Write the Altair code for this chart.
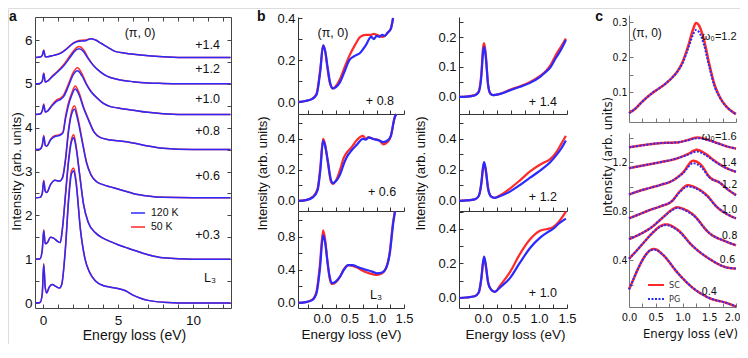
import altair as alt
import pandas as pd

BLUE = "#2a2aff"
RED = "#ff2a2a"
FONT = "Liberation Sans, Arial, Helvetica, sans-serif"
NARROW = "Liberation Sans Narrow, DejaVu Sans Condensed, Liberation Sans, sans-serif"
W, H = 732, 336
M = 8
TICK = 4

# ---------------- panel a : offset spectra (120 K blue, 50 K red) ----------------
a_E_L3 = [-0.5, -0.2, -0.05, 0.05, 0.15, 0.25, 0.4, 0.6, 0.85, 1.1, 1.25, 1.5, 1.7, 1.9, 2.05, 2.2, 2.5, 2.8, 3.1, 3.5, 4.0, 4.5, 5.0, 5.5, 6.0, 6.5, 7.0, 8.0, 10.0, 12.5]
a_L3_120 = [0.0, 0.01, 0.2, 0.87, 0.35, 0.23, 0.35, 0.42, 0.38, 0.34, 0.42, 1.25, 2.3, 2.95, 3.02, 2.75, 1.65, 1.0, 0.7, 0.5, 0.4, 0.36, 0.33, 0.28, 0.18, 0.11, 0.06, 0.02, 0.0, 0.0]
a_L3_50 = [0.0, 0.01, 0.21, 0.9, 0.35, 0.23, 0.35, 0.42, 0.38, 0.34, 0.43, 1.3, 2.38, 3.02, 3.08, 2.8, 1.68, 1.02, 0.71, 0.5, 0.4, 0.36, 0.33, 0.28, 0.18, 0.11, 0.06, 0.02, 0.0, 0.0]

a_E_03 = [-0.5, -0.2, -0.05, 0.05, 0.15, 0.3, 0.5, 0.7, 1.0, 1.15, 1.3, 1.5, 1.7, 1.9, 2.05, 2.2, 2.45, 2.7, 3.0, 3.5, 4.0, 4.5, 5.0, 5.5, 6.0, 7.0, 8.0, 10.0, 12.5]
a_03_120 = [1.0, 1.01, 1.2, 1.65, 1.35, 1.38, 1.5, 1.48, 1.4, 1.38, 1.7, 2.45, 3.2, 3.68, 3.77, 3.55, 2.9, 2.25, 1.85, 1.6, 1.48, 1.4, 1.33, 1.27, 1.21, 1.1, 1.03, 1.0, 1.0]
a_03_50 = [1.0, 1.01, 1.21, 1.67, 1.35, 1.38, 1.5, 1.48, 1.4, 1.38, 1.72, 2.5, 3.27, 3.74, 3.84, 3.6, 2.93, 2.27, 1.86, 1.6, 1.48, 1.4, 1.33, 1.27, 1.21, 1.1, 1.03, 1.0, 1.0]

a_E_06 = [-0.5, -0.2, -0.05, 0.05, 0.15, 0.25, 0.5, 0.8, 1.1, 1.3, 1.5, 1.7, 1.9, 2.1, 2.3, 2.6, 2.9, 3.2, 3.6, 4.0, 4.5, 5.0, 5.5, 6.0, 7.0, 8.0, 10.0, 12.5]
a_06_120 = [2.4, 2.41, 2.5, 2.78, 2.55, 2.52, 2.7, 2.8, 2.78, 2.85, 3.25, 3.9, 4.3, 4.42, 4.2, 3.7, 3.2, 2.92, 2.76, 2.7, 2.65, 2.6, 2.55, 2.5, 2.44, 2.41, 2.4, 2.4]
a_06_50 = [2.4, 2.41, 2.5, 2.8, 2.55, 2.52, 2.7, 2.8, 2.78, 2.87, 3.3, 3.96, 4.36, 4.5, 4.27, 3.74, 3.22, 2.93, 2.76, 2.7, 2.65, 2.6, 2.55, 2.5, 2.44, 2.41, 2.4, 2.4]

a_E_08 = [-0.5, -0.2, -0.05, 0.05, 0.15, 0.25, 0.5, 0.8, 1.1, 1.33, 1.5, 1.67, 1.93, 2.15, 2.4, 2.7, 3.0, 3.4, 3.8, 4.5, 5.0, 6.0, 7.0, 8.0, 10.0, 12.5]
a_08_120 = [3.5, 3.51, 3.6, 3.8, 3.6, 3.58, 3.72, 3.8, 3.82, 3.88, 4.2, 4.47, 4.75, 4.88, 4.75, 4.45, 4.2, 3.9, 3.78, 3.72, 3.7, 3.65, 3.58, 3.53, 3.5, 3.5]
a_08_50 = [3.5, 3.51, 3.6, 3.82, 3.6, 3.58, 3.73, 3.82, 3.84, 3.9, 4.25, 4.53, 4.8, 4.95, 4.8, 4.48, 4.22, 3.91, 3.78, 3.72, 3.7, 3.65, 3.58, 3.53, 3.5, 3.5]

a_E_10 = [-0.5, -0.2, -0.05, 0.05, 0.15, 0.3, 0.6, 0.9, 1.2, 1.4, 1.7, 2.0, 2.3, 2.6, 2.9, 3.2, 3.6, 4.0, 4.5, 5.0, 6.0, 7.0, 8.0, 10.0, 12.5]
a_10_120 = [4.3, 4.31, 4.38, 4.52, 4.36, 4.38, 4.5, 4.6, 4.65, 4.72, 4.95, 5.2, 5.3, 5.18, 4.98, 4.82, 4.68, 4.56, 4.48, 4.45, 4.4, 4.35, 4.32, 4.3, 4.3]
a_10_50 = [4.3, 4.31, 4.38, 4.54, 4.36, 4.38, 4.52, 4.63, 4.68, 4.76, 5.0, 5.25, 5.37, 5.23, 5.0, 4.83, 4.68, 4.56, 4.48, 4.45, 4.4, 4.35, 4.32, 4.3, 4.3]

a_E_12 = [-0.5, -0.2, -0.05, 0.05, 0.15, 0.3, 0.6, 1.0, 1.4, 1.8, 2.1, 2.4, 2.7, 3.0, 3.4, 3.8, 4.3, 5.0, 6.0, 7.0, 8.0, 10.0, 12.5]
a_12_120 = [5.0, 5.01, 5.06, 5.23, 5.04, 5.06, 5.16, 5.28, 5.42, 5.6, 5.74, 5.8, 5.74, 5.58, 5.4, 5.28, 5.17, 5.1, 5.05, 5.02, 5.01, 5.0, 5.0]
a_12_50 = [5.0, 5.01, 5.06, 5.25, 5.04, 5.06, 5.17, 5.3, 5.45, 5.64, 5.78, 5.85, 5.78, 5.6, 5.41, 5.28, 5.17, 5.1, 5.05, 5.02, 5.01, 5.0, 5.0]

a_E_14 = [-0.5, -0.2, -0.05, 0.05, 0.15, 0.3, 0.7, 1.2, 1.6, 2.0, 2.4, 2.8, 3.2, 3.5, 3.9, 4.3, 4.8, 5.5, 6.5, 8.0, 10.0, 12.5]
a_14_120 = [5.6, 5.61, 5.65, 5.76, 5.62, 5.62, 5.65, 5.7, 5.8, 5.92, 5.97, 5.98, 6.03, 6.0, 5.92, 5.84, 5.74, 5.7, 5.66, 5.62, 5.6, 5.6]
a_14_50 = [5.6, 5.61, 5.65, 5.77, 5.62, 5.62, 5.65, 5.71, 5.81, 5.93, 5.99, 6.0, 6.03, 6.0, 5.92, 5.84, 5.74, 5.7, 5.66, 5.62, 5.6, 5.6]

a_curve_labels = ["+1.4", "+1.2", "+1.0", "+0.8", "+0.6", "+0.3"]
a_curve_label_E = [11.8, 11.8, 11.8, 11.8, 11.8, 11.8]
a_curve_label_I = [5.886, 5.34, 4.65, 3.92, 2.9, 1.55]

# ---------------- panel b : low-energy zoom ----------------
b1_E = [-0.43, -0.3, -0.18, -0.1, -0.03, 0.02, 0.06, 0.1, 0.15, 0.2, 0.25, 0.33, 0.42, 0.5, 0.6, 0.7, 0.8, 0.9, 0.95, 1.0, 1.05, 1.1, 1.15, 1.2, 1.26, 1.3]
b1_120 = [0.0, 0.005, 0.015, 0.035, 0.15, 0.27, 0.24, 0.17, 0.09, 0.065, 0.07, 0.095, 0.15, 0.2, 0.22, 0.235, 0.27, 0.31, 0.3, 0.315, 0.31, 0.32, 0.315, 0.33, 0.35, 0.4]
b1_50 = [0.0, 0.005, 0.015, 0.04, 0.16, 0.27, 0.24, 0.16, 0.085, 0.065, 0.075, 0.11, 0.17, 0.22, 0.27, 0.31, 0.32, 0.32, 0.325, 0.32, 0.315, 0.31, 0.315, 0.33, 0.35, 0.4]

b2_E = [-0.43, -0.3, -0.16, -0.08, -0.03, 0.02, 0.06, 0.11, 0.16, 0.2, 0.26, 0.33, 0.4, 0.45, 0.55, 0.63, 0.75, 0.8, 0.85, 0.94, 1.05, 1.12, 1.2, 1.26, 1.33, 1.36]
b2_120 = [0.0, 0.005, 0.025, 0.07, 0.2, 0.39, 0.35, 0.25, 0.14, 0.115, 0.13, 0.17, 0.24, 0.28, 0.33, 0.36, 0.4, 0.395, 0.41, 0.4, 0.39, 0.38, 0.39, 0.42, 0.54, 0.56]
b2_50 = [0.0, 0.005, 0.03, 0.08, 0.22, 0.40, 0.36, 0.24, 0.13, 0.11, 0.135, 0.2, 0.28, 0.31, 0.35, 0.39, 0.42, 0.40, 0.41, 0.4, 0.39, 0.365, 0.38, 0.42, 0.54, 0.56]

b3_E = [-0.43, -0.3, -0.18, -0.1, -0.04, 0.02, 0.06, 0.1, 0.14, 0.18, 0.25, 0.33, 0.4, 0.48, 0.56, 0.64, 0.72, 0.82, 0.92, 1.0, 1.1, 1.17, 1.24, 1.3, 1.335]
b3_120 = [0.0, 0.01, 0.035, 0.12, 0.4, 0.82, 0.72, 0.5, 0.32, 0.24, 0.26, 0.32, 0.4, 0.46, 0.46, 0.44, 0.42, 0.4, 0.38, 0.36, 0.37, 0.42, 0.6, 0.95, 1.11]
b3_50 = [0.0, 0.01, 0.04, 0.14, 0.45, 0.88, 0.76, 0.5, 0.3, 0.23, 0.25, 0.32, 0.41, 0.46, 0.45, 0.43, 0.4, 0.37, 0.35, 0.34, 0.36, 0.42, 0.62, 0.98, 1.11]

b4_E = [-0.43, -0.3, -0.15, -0.08, -0.03, 0.0, 0.02, 0.05, 0.09, 0.13, 0.18, 0.3, 0.48, 0.65, 0.84, 1.02, 1.1, 1.2, 1.3, 1.4, 1.48]
b4_120 = [0.0, 0.001, 0.005, 0.015, 0.07, 0.15, 0.167, 0.13, 0.04, 0.012, 0.006, 0.01, 0.022, 0.033, 0.047, 0.067, 0.08, 0.098, 0.13, 0.16, 0.19]
b4_50 = [0.0, 0.001, 0.006, 0.018, 0.08, 0.165, 0.18, 0.14, 0.04, 0.01, 0.006, 0.01, 0.024, 0.035, 0.05, 0.07, 0.082, 0.105, 0.14, 0.17, 0.195]

b5_E = [-0.43, -0.3, -0.15, -0.08, -0.03, 0.0, 0.02, 0.05, 0.09, 0.14, 0.21, 0.3, 0.48, 0.65, 0.84, 1.0, 1.07, 1.2, 1.32, 1.4, 1.48]
b5_120 = [0.0, 0.003, 0.01, 0.03, 0.12, 0.22, 0.25, 0.2, 0.08, 0.03, 0.02, 0.03, 0.06, 0.1, 0.15, 0.19, 0.21, 0.25, 0.3, 0.34, 0.39]
b5_50 = [0.0, 0.003, 0.01, 0.03, 0.11, 0.21, 0.24, 0.19, 0.08, 0.03, 0.02, 0.035, 0.08, 0.13, 0.19, 0.23, 0.245, 0.27, 0.32, 0.37, 0.42]

b6_E = [-0.43, -0.3, -0.15, -0.08, -0.03, 0.0, 0.02, 0.05, 0.09, 0.14, 0.21, 0.3, 0.48, 0.65, 0.84, 1.02, 1.15, 1.25, 1.35, 1.48]
b6_120 = [0.0, 0.003, 0.01, 0.03, 0.12, 0.21, 0.24, 0.19, 0.09, 0.05, 0.035, 0.06, 0.115, 0.2, 0.29, 0.35, 0.38, 0.4, 0.43, 0.46]
b6_50 = [0.0, 0.003, 0.01, 0.03, 0.11, 0.2, 0.23, 0.18, 0.09, 0.05, 0.035, 0.07, 0.15, 0.25, 0.34, 0.39, 0.4, 0.41, 0.44, 0.5]

b_labels = {"b1": "+ 0.8", "b2": "+ 0.6", "b3": "L\u2083", "b4": "+ 1.4", "b5": "+ 1.2", "b6": "+ 1.0"}
b_label_pos = {"b1": (1.06, 0.005), "b2": (1.1, 0.058), "b3": (0.99, 0.097),
               "b4": (1.07, -0.017), "b5": (1.07, 0.026), "b6": (1.07, 0.029)}

# ---------------- panel c : model (SC red, PG blue dotted) ----------------
c1_E = [0.0, 0.1, 0.2, 0.3, 0.4, 0.5, 0.6, 0.7, 0.8, 0.9, 1.0, 1.1, 1.2, 1.25, 1.3, 1.4, 1.5, 1.6, 1.7, 1.8, 1.9, 2.0]
c1_sc = [0.04, 0.05, 0.065, 0.08, 0.093, 0.104, 0.114, 0.126, 0.14, 0.158, 0.185, 0.228, 0.28, 0.297, 0.292, 0.25, 0.18, 0.12, 0.085, 0.062, 0.047, 0.037]
c1_pg = [0.04, 0.05, 0.065, 0.08, 0.093, 0.104, 0.114, 0.126, 0.14, 0.157, 0.182, 0.222, 0.265, 0.277, 0.273, 0.236, 0.172, 0.116, 0.083, 0.061, 0.047, 0.037]

c_w16_E = [0.0, 0.3, 0.6, 0.9, 1.1, 1.28, 1.45, 1.65, 1.85, 2.0]
c_w16_sc = [1.32, 1.34, 1.355, 1.36, 1.38, 1.40, 1.385, 1.355, 1.325, 1.31]
c_w16_pg = [1.32, 1.34, 1.355, 1.36, 1.378, 1.395, 1.382, 1.354, 1.325, 1.31]
c_w14_E = [0.0, 0.3, 0.6, 0.9, 1.1, 1.27, 1.42, 1.6, 1.8, 2.0]
c_w14_sc = [1.15, 1.175, 1.2, 1.23, 1.265, 1.30, 1.27, 1.21, 1.155, 1.12]
c_w14_pg = [1.15, 1.175, 1.2, 1.23, 1.26, 1.285, 1.26, 1.205, 1.155, 1.12]
c_w12_E = [0.0, 0.2, 0.4, 0.6, 0.8, 1.0, 1.2, 1.35, 1.5, 1.7, 1.85, 2.0]
c_w12_sc = [0.935, 0.965, 0.99, 1.015, 1.045, 1.11, 1.21, 1.175, 1.08, 1.03, 0.975, 0.93]
c_w12_pg = [0.935, 0.965, 0.99, 1.015, 1.045, 1.105, 1.19, 1.16, 1.075, 1.03, 0.975, 0.93]
c_w10_E = [0.0, 0.2, 0.4, 0.6, 0.8, 0.95, 1.1, 1.25, 1.45, 1.65, 1.85, 2.0]
c_w10_sc = [0.74, 0.775, 0.81, 0.84, 0.88, 0.96, 1.01, 0.99, 0.93, 0.83, 0.77, 0.74]
c_w10_pg = [0.74, 0.775, 0.81, 0.84, 0.88, 0.955, 1.0, 0.985, 0.925, 0.83, 0.77, 0.74]
c_w08_E = [0.0, 0.2, 0.4, 0.64, 0.8, 0.9, 1.0, 1.2, 1.5, 1.82, 2.0]
c_w08_sc = [0.57, 0.61, 0.66, 0.75, 0.81, 0.83, 0.82, 0.77, 0.62, 0.55, 0.52]
c_w08_pg = [0.57, 0.61, 0.66, 0.75, 0.805, 0.825, 0.815, 0.765, 0.62, 0.55, 0.52]
c_w06_E = [0.0, 0.15, 0.27, 0.46, 0.6, 0.7, 0.9, 1.2, 1.5, 1.82, 2.0]
c_w06_sc = [0.41, 0.48, 0.54, 0.63, 0.68, 0.69, 0.65, 0.51, 0.41, 0.34, 0.33]
c_w06_pg = [0.41, 0.48, 0.54, 0.63, 0.675, 0.685, 0.645, 0.51, 0.41, 0.34, 0.33]
c_w04_E = [0.0, 0.08, 0.16, 0.31, 0.4, 0.47, 0.64, 0.9, 1.2, 1.5, 1.82, 2.0]
c_w04_sc = [0.16, 0.24, 0.32, 0.44, 0.48, 0.49, 0.44, 0.3, 0.17, 0.09, 0.05, 0.02]
c_w04_pg = [0.16, 0.24, 0.32, 0.44, 0.48, 0.485, 0.44, 0.3, 0.17, 0.09, 0.05, 0.02]

c_labels = ["1.4", "1.2", "1.0", "0.8", "0.6", "0.4"]
c_label_E = [1.87, 1.88, 1.88, 1.88, 1.84, 1.5]
c_label_I = [1.19, 1.01, 0.81, 0.6, 0.4, 0.14]

# ---------------- layout geometry (page px): left, right, bottom, top, x-domain, y-domain
GEOM = {
    "a": (35, 231, 308, 17, [-0.533, 12.533], [-0.114, 6.525]),
    "b1": (298, 404, 114, 17, [-0.439, 1.5], [-0.057, 0.405]),
    "b2": (298, 404, 211, 114, [-0.439, 1.5], [-0.065, 0.561]),
    "b3": (298, 404, 308, 211, [-0.439, 1.5], [-0.061, 1.115]),
    "b4": (459, 567, 114, 17, [-0.43, 1.5], [-0.057, 0.267]),
    "b5": (459, 567, 211, 114, [-0.43, 1.5], [-0.065, 0.561]),
    "b6": (459, 567, 308, 211, [-0.43, 1.5], [-0.058, 0.504]),
    "c1": (629, 736, 122, 15, [0.0, 2.0], [0.0143, 0.32]),
    "c2": (629, 736, 307, 133, [0.0, 2.0], [0.0163, 1.437]),
}


def sx(g):
    x0, x1, yb, yt, xd, yd = GEOM[g]
    return alt.Scale(domain=xd, range=[x0 - M, x1 - M], nice=False, zero=False)


def sy(g):
    x0, x1, yb, yt, xd, yd = GEOM[g]
    return alt.Scale(domain=yd, range=[yb - M, yt - M], nice=False, zero=False)


def base_axis(**kw):
    d = dict(grid=False, labelFlush=False, labelOverlap=False, title=None)
    d.update(kw)
    return alt.Axis(**d)


def y_label_axis(g, values, fmt, color, fs, font, pad=3, title=None, tx=0, ty=0, tfs=13):
    x0 = GEOM[g][0]
    kw = dict(orient="left", offset=-(x0 - M), values=values, format=fmt, ticks=False,
              domain=True, domainColor=color, domainWidth=1, labelFontSize=fs,
              labelFont=font, labelColor="#111", labelPadding=pad)
    if title:
        kw.update(title=title, titleX=tx, titleY=ty - M, titleAngle=270, titleAlign="center",
                  titleBaseline="middle", titleFontSize=tfs, titleFont=font,
                  titleFontWeight="normal", titleColor="#111")
    return base_axis(**kw)


def x_label_axis(g, values, fmt, color, fs, font, pad=10, show=True, title=None, tx=0, ty=0,
                 tfs=13, domain=True, flush_end=False):
    yb = GEOM[g][2]
    kw = dict(orient="bottom", offset=(yb - M) - H, values=values, ticks=False, domain=domain,
              domainColor=color, domainWidth=1, labels=show)
    if show:
        kw.update(format=fmt, labelFontSize=fs, labelFont=font, labelColor="#111",
                  labelPadding=pad, labelBaseline="middle")
        if flush_end:
            kw.update(labelFlush=True, labelFlushOffset=4)
    if title:
        kw.update(title=title, titleX=tx - M, titleY=ty - yb, titleAlign="center",
                  titleBaseline="middle", titleFontSize=tfs, titleFont=font,
                  titleFontWeight="normal", titleColor="#111")
    return base_axis(**kw)


def y_tick_axis(g, values, color, side="left"):
    x0, x1 = GEOM[g][0], GEOM[g][1]
    off = -(x0 - M + TICK) if side == "left" else (x1 - M - TICK) - W
    return base_axis(orient=side, offset=off, values=values, labels=False, domain=False,
                     ticks=True, tickSize=TICK, tickColor=color, tickWidth=1)


def x_tick_axis(g, values, color, side="bottom"):
    yb, yt = GEOM[g][2], GEOM[g][3]
    off = (yb - M - TICK) - H if side == "bottom" else -(yt - M + TICK)
    return base_axis(orient=side, offset=off, values=values, labels=False, domain=False,
                     ticks=True, tickSize=TICK, tickColor=color, tickWidth=1)


def x_frame_top(g, color):
    yt = GEOM[g][3]
    return base_axis(orient="top", offset=-(yt - M), labels=False, ticks=False, domain=True,
                     domainColor=color, domainWidth=1)


def y_frame_right(g, color):
    x1 = GEOM[g][1]
    return base_axis(orient="right", offset=(x1 - M) - W, labels=False, ticks=False, domain=True,
                     domainColor=color, domainWidth=1)


def series(E, I, **const):
    df = pd.DataFrame({"E": E, "I": I})
    for k, v in const.items():
        df[k] = v
    return df


def lines(df, g, xaxis, yaxis, color=None, width=1.5, dash=None, extra=None):
    mk = dict(interpolate="monotone", strokeWidth=width)
    if color:
        mk["color"] = color
    if dash:
        mk["strokeDash"] = dash
    enc = dict(x=alt.X("E:Q", scale=sx(g), axis=xaxis), y=alt.Y("I:Q", scale=sy(g), axis=yaxis))
    if "curve" in df.columns:
        enc["detail"] = alt.Detail("curve:N")
    if extra:
        enc.update(extra)
    return alt.Chart(df).mark_line(**mk).encode(**enc)


def texts(g, E, I, labels, size, font=FONT, align="center", baseline="middle",
          weight="normal", xaxis=None, yaxis=None):
    df = pd.DataFrame({"E": E, "I": I, "t": labels})
    return alt.Chart(df).mark_text(align=align, baseline=baseline, fontSize=size, font=font,
                                   fontWeight=weight, color="#111").encode(
        x=alt.X("E:Q", scale=sx(g), axis=xaxis), y=alt.Y("I:Q", scale=sy(g), axis=yaxis),
        text="t:N")


layers = []

# ---------------- panel a ----------------
AC = "#444"
a_sets = [("L3", a_E_L3, a_L3_120, a_L3_50), ("+0.3", a_E_03, a_03_120, a_03_50),
          ("+0.6", a_E_06, a_06_120, a_06_50), ("+0.8", a_E_08, a_08_120, a_08_50),
          ("+1.0", a_E_10, a_10_120, a_10_50), ("+1.2", a_E_12, a_12_120, a_12_50),
          ("+1.4", a_E_14, a_14_120, a_14_50)]
a_red = pd.concat([series(e, r, curve=n, temp="50 K") for n, e, b, r in a_sets])
a_blue = pd.concat([series(e, b, curve=n) for n, e, b, r in a_sets])
a_xt = list(range(0, 13))
a_yt = [i * 0.5 for i in range(0, 13)]

a_legend = alt.Legend(title=None, orient="none", legendX=122, legendY=197, symbolType="stroke",
                      symbolSize=196, symbolStrokeWidth=1.5, labelFontSize=10.5, labelFont=FONT,
                      labelColor="#111", padding=0, rowPadding=-7, labelOffset=5)
layers.append(lines(
    a_red, "a",
    x_label_axis("a", [0, 5, 10], "d", AC, 13.5, FONT, pad=12, title="Energy loss (eV)", tx=134, ty=335, tfs=14),
    y_label_axis("a", [0, 1, 2, 3, 4, 5, 6], "d", AC, 13.5, FONT, pad=3,
                 title="Intensity (arb. units)", tx=16 - 35, ty=171, tfs=13.5),
    width=1.5,
    extra={"color": alt.Color("temp:N", scale=alt.Scale(domain=["120 K", "50 K"], range=[BLUE, RED]),
                              legend=a_legend)}))
layers.append(lines(a_blue, "a", x_tick_axis("a", a_xt, AC), y_tick_axis("a", a_yt, AC),
                    color=BLUE, width=1.5))
layers.append(texts("a", a_curve_label_E, a_curve_label_I, a_curve_labels, 12.5, align="right",
                    xaxis=x_tick_axis("a", a_xt, AC, "top"), yaxis=y_tick_axis("a", a_yt, AC, "right")))
layers.append(texts("a", [11.13, 6.47], [0.57, 6.16], ["L\u2083", "(\u03c0, 0)"], 12.5,
                    xaxis=x_frame_top("a", AC), yaxis=y_frame_right("a", AC)))
layers.append(texts("a", [-2.27], [6.434], ["a"], 14, align="left", baseline="alphabetic", weight="bold"))

# ---------------- panel b ----------------
BC = "#333"
b_xt = [-0.25, 0.0, 0.25, 0.5, 0.75, 1.0, 1.25, 1.5]
b_data = {"b1": (b1_E, b1_120, b1_50), "b2": (b2_E, b2_120, b2_50), "b3": (b3_E, b3_120, b3_50),
          "b4": (b4_E, b4_120, b4_50), "b5": (b5_E, b5_120, b5_50), "b6": (b6_E, b6_120, b6_50)}
b_ylab = {"b1": [0.0, 0.2, 0.4], "b2": [0.0, 0.2, 0.4], "b3": [0.0, 0.4, 0.8],
          "b4": [0.0, 0.1, 0.2], "b5": [0.0, 0.2, 0.4], "b6": [0.0, 0.2, 0.4]}
b_ytick = {"b1": [0.0, 0.1, 0.2, 0.3, 0.4], "b2": [0.0, 0.1, 0.2, 0.3, 0.4, 0.5],
           "b3": [0.0, 0.2, 0.4, 0.6, 0.8, 1.0], "b4": [0.0, 0.05, 0.1, 0.15, 0.2, 0.25],
           "b5": [0.0, 0.1, 0.2, 0.3, 0.4, 0.5], "b6": [0.0, 0.1, 0.2, 0.3, 0.4, 0.5]}
for g in ["b1", "b2", "b3", "b4", "b5", "b6"]:
    E, i120, i50 = b_data[g]
    bottom = g in ("b3", "b6")
    xt_title = "Energy loss (eV)" if bottom else None
    xcenter = 351 if g == "b3" else 515
    ytitle = "Intensity (arb. units)" if g in ("b2", "b5") else None
    ytx = -36 if g == "b2" else -39
    xa = x_label_axis(g, [0.0, 0.5, 1.0, 1.5], ".1f", BC, 13, FONT, pad=10, show=bottom,
                      title=xt_title, tx=xcenter, ty=334, tfs=13.5)
    ya = y_label_axis(g, b_ylab[g], ".1f", BC, 13, FONT, pad=3, title=ytitle, tx=ytx, ty=173, tfs=13)
    layers.append(lines(series(E, i50), g, xa, ya, color=RED, width=2.2))
    layers.append(lines(series(E, i120), g, x_tick_axis(g, b_xt, BC), y_tick_axis(g, b_ytick[g], BC),
                        color=BLUE, width=2.2))
    lx, ly = b_label_pos[g]
    layers.append(texts(g, [lx], [ly], [b_labels[g]], 12.5))
layers.append(texts("b1", [0.2], [0.33], ["(\u03c0, 0)"], 12.5))
layers.append(texts("b1", [-1.19], [0.385], ["b"], 14, align="left", baseline="alphabetic", weight="bold"))

# ---------------- panel c ----------------
CC = "#777"
c_xt = [0.25, 0.5, 0.75, 1.0, 1.25, 1.5, 1.75, 2.0]
# top
layers.append(lines(series(c1_E, c1_sc), "c1",
                    x_label_axis("c1", [0.0], ".1f", CC, 11, NARROW, show=False),
                    y_label_axis("c1", [0.1, 0.2, 0.3], ".1f", CC, 10.5, NARROW, pad=2),
                    color=RED, width=2.5))
layers.append(lines(series(c1_E, c1_pg), "c1", x_tick_axis("c1", c_xt, CC),
                    y_tick_axis("c1", [0.05, 0.1, 0.15, 0.2, 0.25, 0.3], CC),
                    color=BLUE, width=2, dash=[2, 1.5]))
layers.append(texts("c1", [0.06], [0.27], ["(\u03c0, 0)"], 12, align="left"))
layers.append(texts("c1", [1.36], [0.257], ["\u03c9\u2080=1.2"], 11, align="left"))
layers.append(texts("c1", [-0.63], [0.3029], ["c"], 14, align="left", baseline="alphabetic", weight="bold"))
# bottom
c_sets = [("1.6", c_w16_E, c_w16_sc, c_w16_pg), ("1.4", c_w14_E, c_w14_sc, c_w14_pg),
          ("1.2", c_w12_E, c_w12_sc, c_w12_pg), ("1.0", c_w10_E, c_w10_sc, c_w10_pg),
          ("0.8", c_w08_E, c_w08_sc, c_w08_pg), ("0.6", c_w06_E, c_w06_sc, c_w06_pg),
          ("0.4", c_w04_E, c_w04_sc, c_w04_pg)]
c_sc = pd.concat([series(e, s, curve=n, model="SC") for n, e, s, p in c_sets])
c_pg = pd.concat([series(e, p, curve=n) for n, e, s, p in c_sets])


def c_leg():
    return alt.Legend(title=None, orient="none", legendX=639, legendY=268, symbolType="stroke",
                      symbolSize=256, symbolStrokeWidth=2, labelFontSize=9, labelFont=NARROW,
                      labelColor="#333", padding=0, rowPadding=-7, labelOffset=4)


layers.append(lines(
    c_sc, "c2",
    x_label_axis("c2", [0.0, 0.5, 1.0, 1.5], ".1f", CC, 11, NARROW, pad=10,
                 title="Energy loss (eV)", tx=690, ty=333, tfs=13),
    y_label_axis("c2", [0.4, 0.8, 1.2], ".1f", CC, 10.5, NARROW, pad=2,
                 title="Intensity (arb. units)", tx=-22, ty=156, tfs=13),
    width=2.5,
    extra={"color": alt.Color("model:N", scale=alt.Scale(domain=["SC", "PG"], range=[RED, BLUE]), legend=c_leg()),
           "strokeDash": alt.StrokeDash("model:N", scale=alt.Scale(domain=["SC", "PG"], range=[[1, 0], [2, 1.5]]),
                                        legend=c_leg())}))
layers.append(lines(c_pg, "c2", x_tick_axis("c2", c_xt, CC),
                    y_tick_axis("c2", [0.2, 0.4, 0.6, 0.8, 1.0, 1.2, 1.4], CC),
                    color=BLUE, width=2, dash=[2, 1.5]))
layers.append(texts("c2", c_label_E, c_label_I, c_labels, 11, font=NARROW,
                    xaxis=x_label_axis("c2", [2.0], ".1f", CC, 11, NARROW, pad=10, domain=False,
                                       flush_end=True)))
layers.append(texts("c2", [1.36], [1.404], ["\u03c9\u2080=1.6"], 11, align="left"))

chart = alt.layer(*layers).resolve_scale(
    x="independent", y="independent", color="independent", strokeDash="independent"
).resolve_axis(x="independent", y="independent").resolve_legend(
    color="independent", strokeDash="independent"
).properties(
    width=W, height=H, padding=0, autosize=alt.AutoSizeParams(type="none")
).configure_view(stroke=None).configure(font=FONT)

chart.save("out.html", embed_options={"renderer": "svg", "actions": False})
